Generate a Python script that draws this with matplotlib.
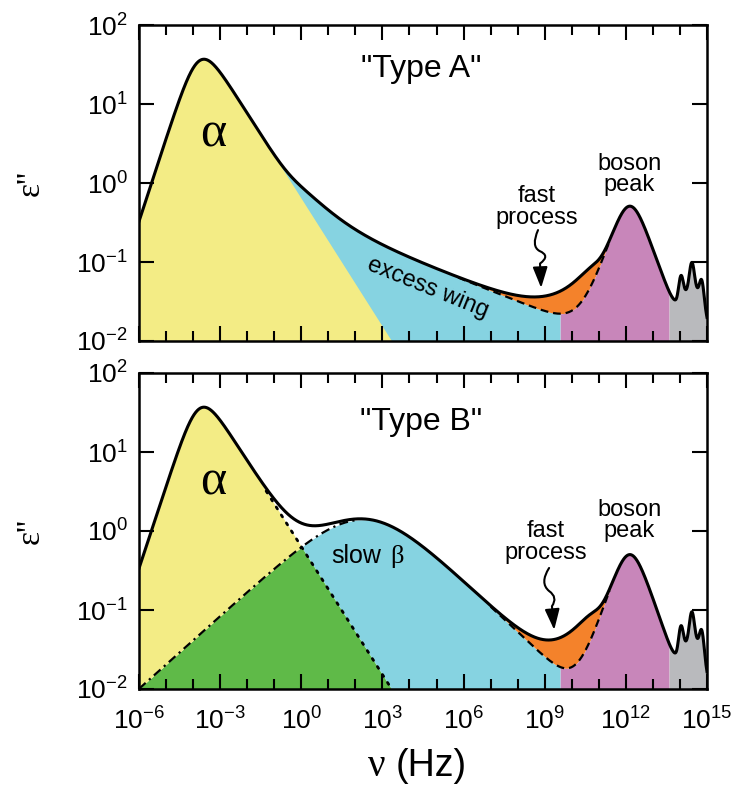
import numpy as np
import matplotlib
matplotlib.use('Agg')
import matplotlib.pyplot as plt
from matplotlib.ticker import FixedLocator, FuncFormatter, NullLocator, NullFormatter
from matplotlib.patches import FancyArrowPatch
from matplotlib.path import Path

plt.rcParams['font.family'] = ['Liberation Sans', 'DejaVu Sans']
plt.rcParams['mathtext.fontset'] = 'custom'
plt.rcParams['mathtext.rm'] = 'Liberation Sans'
plt.rcParams['mathtext.default'] = 'regular'

# relaxation components:
# [log10 peak freq, amplitude, low-side slope, high-side slope, sharpness]
alpha_par = [-3.78, 70.0, 1.05, 0.54, 1.0]
wing_par = [-0.3, 0.42, 1.0, 0.135, 1.0]
beta_par = [2.33, 3.63, 0.307, 0.324, 0.72]
fast_a_par = [10.9, 0.06, 0.35, 1.8, 1.0]
fast_b_par = [10.9, 0.075, 0.35, 1.8, 1.0]
boson_par = [12.15, 1.0, 1.0, 1.0, 1.0]

# vibrational wiggles above the boson peak
vib_center = [14.5, 14.04, 14.44, 14.8]
vib_width = [0.35, 0.075, 0.075, 0.07]
vib_amp = [0.04, 0.033, 0.05, 0.026]

# region edges (log10 Hz)
purple_start = 9.57
gray_start = 13.6

YELLOW = '#f3ec85'
BLUE = '#86d3e1'
ORANGE = '#f4822b'
PURPLE = '#c886ba'
GRAY = '#b9babd'
GREEN = '#5fba48'

lognu = np.linspace(-6, 15, 5000)
nu = 10 ** lognu


def peak(p):
    logf0, amp, a, b, s = p
    x = 10 ** (lognu - logf0)
    return amp / (x ** (-a * s) + x ** (b * s)) ** (1 / s)


def vibrations():
    out = np.zeros_like(lognu)
    for c, w, a in zip(vib_center, vib_width, vib_amp):
        out += a * np.exp(-(lognu - c) ** 2 / (2 * w ** 2))
    return out


def style(ax, show_x):
    ax.set_xscale('log')
    ax.set_yscale('log')
    ax.set_xlim(1e-6, 1e15)
    ax.set_ylim(1e-2, 1e2)
    ax.xaxis.set_major_locator(FixedLocator(10.0 ** np.arange(-6, 16, 3)))
    ax.xaxis.set_minor_locator(FixedLocator(10.0 ** np.arange(-6, 16, 1)))
    ax.yaxis.set_major_locator(FixedLocator(10.0 ** np.arange(-2, 3)))
    ax.yaxis.set_minor_locator(NullLocator())
    fmt = FuncFormatter(lambda v, p: r'$10^{%d}$' % round(np.log10(v)))
    ax.yaxis.set_major_formatter(fmt)
    ax.xaxis.set_minor_formatter(NullFormatter())
    if show_x:
        ax.xaxis.set_major_formatter(fmt)
    else:
        ax.xaxis.set_major_formatter(NullFormatter())
    ax.tick_params(which='both', direction='in', top=True, right=True, width=1.5)
    ax.tick_params(which='major', length=11, labelsize=19, pad=8)
    ax.tick_params(axis='x', which='major', pad=13)
    ax.tick_params(which='minor', length=7)
    for sp in ax.spines.values():
        sp.set_linewidth(1.8)


def squiggle(ax, pts):
    codes = [Path.MOVETO, Path.CURVE3, Path.CURVE3, Path.CURVE3, Path.CURVE3, Path.LINETO]
    arr = FancyArrowPatch(path=Path(pts, codes), transform=ax.transAxes,
                          arrowstyle='-|>,head_length=0.9,head_width=0.32',
                          mutation_scale=14, lw=1.5, color='k')
    ax.add_patch(arr)


fig = plt.figure(figsize=(7.35, 7.85), dpi=100)
ax1 = fig.add_axes([139 / 735, 1 - 341 / 785, 568 / 735, 316 / 785])
ax2 = fig.add_axes([139 / 735, 1 - 689 / 785, 568 / 735, 316 / 785])

alpha = peak(alpha_par)
boson = peak(boson_par)
vib = vibrations()
low = 1e-3

# ---- Type A ----
wing = peak(wing_par)
env_a = alpha + wing + boson + vib
total_a = env_a + peak(fast_a_par)

ax1.fill_between(nu, low, env_a, where=lognu <= purple_start, color=BLUE, lw=0)
ax1.fill_between(nu, low, alpha, color=YELLOW, lw=0)
ax1.fill_between(nu, env_a, total_a, where=(lognu > 5) & (lognu < 12.0), color=ORANGE, lw=0)
ax1.fill_between(nu, low, env_a, where=(lognu >= purple_start) & (lognu <= gray_start),
                 color=PURPLE, lw=0)
ax1.fill_between(nu, low, total_a, where=lognu >= gray_start, color=GRAY, lw=0)
m = (lognu > 5.8) & (lognu < 11.4)
ax1.plot(nu[m], env_a[m], color='k', lw=1.6, ls=(0, (3.5, 2.2)))
ax1.plot(nu, total_a, color='k', lw=2.2)
style(ax1, False)

ax1.text(0.496, 0.835, '"Type A"', transform=ax1.transAxes, ha='center', va='baseline',
         fontsize=23)
ax1.text(0.13, 0.655, 'α', transform=ax1.transAxes, ha='center', va='center', fontsize=36,
         family=['Liberation Serif'])
ax1.text(0.509, 0.168, 'excess wing', transform=ax1.transAxes, ha='center', va='center',
         fontsize=17, rotation=-22)
ax1.text(0.701, 0.424, 'fast\nprocess', transform=ax1.transAxes, ha='center', va='center',
         fontsize=17, linespacing=0.95)
ax1.text(0.863, 0.528, 'boson\npeak', transform=ax1.transAxes, ha='center', va='center',
         fontsize=17, linespacing=0.95)
squiggle(ax1, [(0.7025, 0.351), (0.690, 0.300), (0.705, 0.285), (0.725, 0.270),
               (0.706, 0.245), (0.708, 0.168)])

# ---- Type B ----
beta = peak(beta_par)
side_b = beta + boson + vib
env_b = alpha + side_b
total_b = env_b + peak(fast_b_par)

ax2.fill_between(nu, low, np.minimum(alpha, beta), color=GREEN, lw=0)
ax2.fill_between(nu, beta, alpha, where=alpha > beta, color=YELLOW, lw=0)
ax2.fill_between(nu, alpha, side_b, where=(beta > alpha) & (lognu <= purple_start),
                 color=BLUE, lw=0)
ax2.fill_between(nu, env_b, total_b, where=(lognu > 6) & (lognu < 12.0), color=ORANGE, lw=0)
ax2.fill_between(nu, low, env_b, where=(lognu >= purple_start) & (lognu <= gray_start),
                 color=PURPLE, lw=0)
ax2.fill_between(nu, low, total_b, where=lognu >= gray_start, color=GRAY, lw=0)
m = (lognu > -1.3) & (lognu < 3.5)
ax2.plot(nu[m], alpha[m], color='k', lw=2.0, ls=(0, (0.8, 2.6)), dash_capstyle='round')
m = lognu < 2.05
ax2.plot(nu[m], beta[m], color='k', lw=1.6, ls=(0, (4, 2, 1, 2)))
m = (lognu > 7.0) & (lognu < 11.4)
ax2.plot(nu[m], env_b[m], color='k', lw=1.6, ls=(0, (3.5, 2.2)))
ax2.plot(nu, total_b, color='k', lw=2.2)
style(ax2, True)

ax2.text(0.496, 0.820, '"Type B"', transform=ax2.transAxes, ha='center', va='baseline',
         fontsize=23)
ax2.text(0.13, 0.655, 'α', transform=ax2.transAxes, ha='center', va='center', fontsize=36,
         family=['Liberation Serif'])
ax2.text(0.382, 0.421, 'slow', transform=ax2.transAxes, ha='center', va='center', fontsize=18)
ax2.text(0.454, 0.418, 'β', transform=ax2.transAxes, ha='center', va='center', fontsize=19,
         family=['Liberation Serif'])
ax2.text(0.716, 0.465, 'fast\nprocess', transform=ax2.transAxes, ha='center', va='center',
         fontsize=17, linespacing=0.95)
ax2.text(0.863, 0.532, 'boson\npeak', transform=ax2.transAxes, ha='center', va='center',
         fontsize=17, linespacing=0.95)
squiggle(ax2, [(0.722, 0.383), (0.705, 0.335), (0.722, 0.310), (0.738, 0.290),
               (0.727, 0.262), (0.731, 0.187)])

# axis labels
for yc in [(25 + 341) / 2, (373 + 689) / 2]:
    fig.text(30 / 735, 1 - yc / 785, "ε''", rotation=90, ha='center', va='center',
             fontsize=24, family=['Liberation Serif'])
fig.text(377 / 735, 1 - 776 / 785, 'ν', ha='center', va='baseline', fontsize=28,
         family=['Liberation Serif'])
fig.text(431 / 735, 1 - 776 / 785, '(Hz)', ha='center', va='baseline', fontsize=27)

fig.savefig('out.png', dpi=100)
